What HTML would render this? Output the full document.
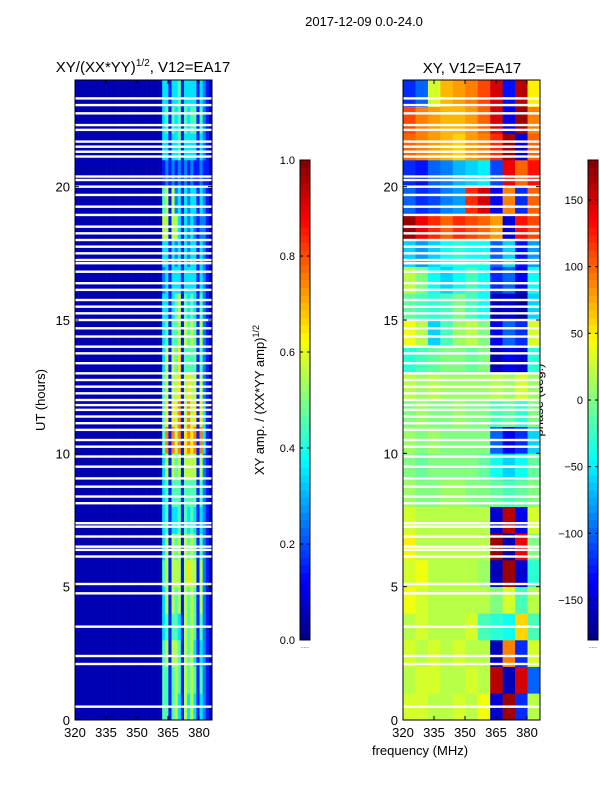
<!DOCTYPE html>
<html><head><meta charset="utf-8"><style>
body{margin:0;background:#fff;}
svg text{font-family:"Liberation Sans",sans-serif;fill:#000;}
</style></head><body>
<svg id="fig" width="600" height="800" viewBox="0 0 600 800">
<text x="364" y="26" font-size="13" text-anchor="middle">2017-12-09 0.0-24.0</text>
<text x="143" y="72" font-size="15" text-anchor="middle">XY/(XX*YY)<tspan font-size="10" dy="-6">1/2</tspan><tspan dy="6">, V12=EA17</tspan></text>
<text x="472" y="73" font-size="15" text-anchor="middle">XY, V12=EA17</text>
<text transform="translate(45,400) rotate(-90)" font-size="13" text-anchor="middle">UT (hours)</text>
<text transform="translate(264,400) rotate(-90)" font-size="13" text-anchor="middle">XY amp. / (XX*YY amp)<tspan font-size="9" dy="-5">1/2</tspan></text>
<text transform="translate(543,400) rotate(-90)" font-size="13" text-anchor="middle">phase (deg.)</text>
<text x="420" y="755" font-size="13" text-anchor="middle">frequency (MHz)</text>
<g id="g"></g>
</svg>
<script>
const freqRange=[320,386.3];
const timeRange=[0,24];
const xTicks=[320,335,350,365,380];
const yTicks=[0,5,10,15,20];
const ampTicks=[0.0,0.2,0.4,0.6,0.8,1.0];
const phaseTicks=[-150,-100,-50,0,50,100,150];
// amplitude rows (hour 0 first), 44 bins of 1.5 MHz, digit = value*10
const Z="0000000000000000000000000000";
const ampRows=[
Z+"4414531535313210",Z+"4414541545414210",Z+"4515541545313210",
Z+"3414431545414210",Z+"3515451545415210",Z+"4515551565515210",
Z+"3515451545414210",Z+"3413341434313210",Z+"3414441444414210",
Z+"3515451555515210",Z+"4717571676717310",Z+"4616571575616310",
Z+"4515561565515210",Z+"3515461444414210",Z+"3414451545415210",
Z+"3313451434314210",Z+"2313331333313210",Z+"3313231323313210",
Z+"5515531323212210",Z+"4515231323313210",Z+"1212121212112110",
Z+"3313341333313210",Z+"3414341434414210",Z+"3313341333313210"];
// phase rows (deg), 11 bins of 6 MHz
const phaseRows=[
[30,30,20,20,30,20,40,-150,170,-120,20],[20,30,30,20,20,30,20,160,-160,150,-100],
[30,20,30,20,30,20,20,-160,90,-120,30],[20,30,20,20,20,30,-20,-30,-40,60,-20],
[40,30,20,20,20,20,20,0,30,-20,20],[30,40,20,20,20,20,10,-160,170,-150,-30],
[50,20,20,20,20,20,20,170,-160,140,0],[30,20,20,20,20,20,20,-150,160,-140,30],
[10,0,0,10,10,0,0,-10,-20,-10,0],[0,-10,0,0,0,0,-10,-40,-60,-40,-10],
[10,0,10,0,0,0,0,-100,-140,-120,-60],[0,10,0,0,10,0,0,-20,-10,-30,0],
[20,10,20,10,10,10,10,20,10,30,10],[-30,-20,-10,0,0,-10,0,-160,-140,-150,-30],
[40,20,-60,-20,10,20,0,-140,-100,-120,30],[-10,-20,-30,-20,0,-20,-40,-160,-150,-170,-60],
[20,0,-40,-60,-40,-20,-40,-120,-100,-140,-40],[-60,-80,-60,-40,-30,-40,-40,-100,-60,-130,-80],
[170,140,120,100,120,110,100,80,-150,130,110],[-100,-120,-110,-90,-80,120,150,-140,90,-120,100],
[-120,-130,-100,-90,-70,-60,-50,-110,140,100,130],[100,90,80,70,60,80,90,120,170,-150,100],
[110,90,80,70,70,80,100,150,-140,170,90],[-120,-100,30,70,80,90,110,150,-130,160,50]];
// flagged times (hours)
const flagTimes=[23.31,23.06,22.75,22.31,22.13,21.69,21.5,21.31,21.13,20.38,20.25,20,19.69,19.25,18.94,18.5,18.25,18,17.75,17.5,17.25,17.13,16.81,16.38,16.13,15.75,15.5,15.25,15,14.69,14.38,14,13.75,13.38,13,12.75,12.5,12.25,12,11.81,11.63,11.38,11.13,10.88,10.5,10.25,9.88,9.5,9.06,8.75,8.38,8.13,7.38,7.25,6.88,6.5,6.38,6.13,5.1,4.75,3.5,2.4,2.1,0.5];

const NS="http://www.w3.org/2000/svg";
const G=document.getElementById('g');
function mk(t,a,p){const e=document.createElementNS(NS,t);for(const k in a)e.setAttribute(k,a[k]);(p||G).appendChild(e);return e;}
function jet(v){v=Math.max(0,Math.min(1,v));
 const f=x=>Math.round(255*Math.max(0,Math.min(1,1.5-Math.abs(4*v-x))));
 return `rgb(${f(3)},${f(2)},${f(1)})`;}
const panels=[{x0:75,name:'amp'},{x0:403,name:'phase'}];
const PW=137,PT=80,PH=640;
function xs(x0,f){return x0+(f-freqRange[0])/(freqRange[1]-freqRange[0])*PW;}
function ys(t){return PT+PH-(t-timeRange[0])/(timeRange[1]-timeRange[0])*PH;}

function drawPanel(p,rows,valFn,nb){
 const g=mk('g',{});
 
 
 const bw=(freqRange[1]-freqRange[0])/nb;
 rows.forEach((row,i)=>{
  for(let j=0;j<nb;j++){
   const f0=freqRange[0]+j*bw, x=xs(p.x0,f0), y=ys(i+1);
   const r=mk('rect',{x:x,y:y,width:xs(p.x0,f0+bw)-x+0.3,height:ys(i)-y+0.3,fill:jet(valFn(row,j))},g);
   
   
  }
 });
 flagTimes.forEach(t=>{
  const r=mk('rect',{x:p.x0,y:ys(t)-1.2,width:PW,height:2.4,fill:'#fff'},g);
  
  
 });
 const fr=mk('rect',{x:p.x0,y:PT,width:PW,height:PH,fill:'none',stroke:'#000','stroke-width':1});
 
 
 xTicks.forEach(v=>{const x=xs(p.x0,v);
  mk('line',{x1:x,x2:x,y1:PT+PH,y2:PT+PH-4,stroke:'#000'});
  mk('line',{x1:x,x2:x,y1:PT,y2:PT+4,stroke:'#000'});
  const t=mk('text',{x:x,y:PT+PH+17,'font-size':13,'text-anchor':'middle'});t.textContent=v;
  });
 yTicks.forEach(v=>{const y=ys(v);
  mk('line',{x1:p.x0,x2:p.x0+4,y1:y,y2:y,stroke:'#000'});
  mk('line',{x1:p.x0+PW,x2:p.x0+PW-4,y1:y,y2:y,stroke:'#000'});
  const t=mk('text',{x:p.x0-5,y:y+5,'font-size':13,'text-anchor':'end'});t.textContent=v;
  });
}
drawPanel(panels[0],ampRows,(r,j)=>+r[j]/10+0.05,44);
drawPanel(panels[1],phaseRows,(r,j)=>(r[j]+180)/360,11);

function colorbar(x,name,ticks,lo,hi,fmt){
 const g=mk('g',{});
 
 
 const n=64;
 for(let i=0;i<n;i++){mk('rect',{x:x,y:160+480*(1-(i+1)/n),width:10,height:480/n+0.5,fill:jet((i+0.5)/n)},g);}
 mk('rect',{x:x,y:160,width:10,height:480,fill:'none',stroke:'#000'},g);
 ticks.forEach(v=>{const y=640-(v-lo)/(hi-lo)*480;
  mk('line',{x1:x,x2:x+3,y1:y,y2:y,stroke:'#000'},g);mk('line',{x1:x+10,x2:x+7,y1:y,y2:y,stroke:'#000'},g);
  const t=mk('text',{x:x-5,y:y+4,'font-size':11,'text-anchor':'end'},g);t.textContent=fmt(v);
  });
 const d=mk('text',{x:x+5,y:648,'font-size':5,'text-anchor':'middle',fill:'#888'},g);d.textContent='......';
}
colorbar(300,'amp-colorbar',ampTicks,0,1,v=>v.toFixed(1));
colorbar(588,'phase-colorbar',phaseTicks,-180,180,v=>v<0?'\u2212'+(-v):''+v);
</script>
</body></html>
